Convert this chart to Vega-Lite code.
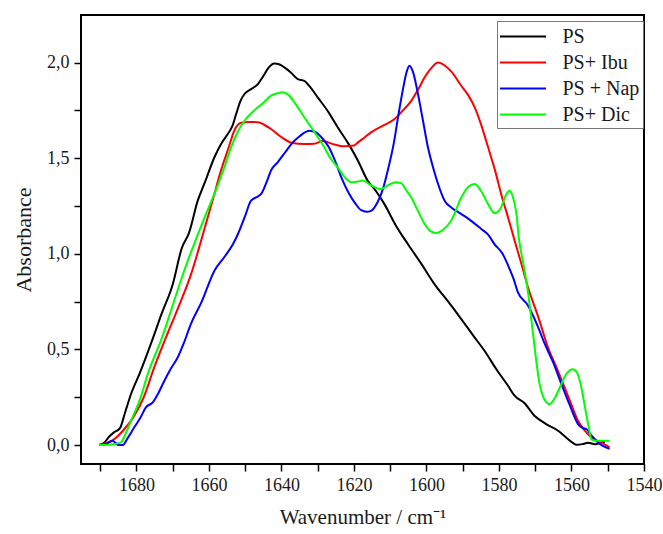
{
  "$schema": "https://vega.github.io/schema/vega-lite/v6.json",
  "width": 563,
  "height": 449,
  "autosize": "none",
  "padding": {"left": 81, "top": 15, "right": 19, "bottom": 70},
  "background": "white",
  "config": {
    "font": "Liberation Serif",
    "view": {"stroke": "#000000", "strokeWidth": 2},
    "axis": {
      "grid": false,
      "domain": false,
      "ticks": true,
      "tickColor": "#000000",
      "tickWidth": 1.5,
      "tickSize": 7,
      "labelColor": "#1a1a1a",
      "labelFont": "Liberation Serif",
      "labelFontSize": 18,
      "titleFont": "Liberation Serif",
      "titleFontSize": 22,
      "titleFontWeight": "normal",
      "titleColor": "#1a1a1a",
      "labelOverlap": false
    },
    "legend": {
      "labelFont": "Liberation Serif",
      "labelFontSize": 20,
      "labelColor": "#1a1a1a"
    }
  },
  "datasets": {
    "spectra": [
      {"s": "PS", "x": 1690.3, "y": 0.0},
      {"s": "PS", "x": 1689.0, "y": 0.01},
      {"s": "PS", "x": 1687.5, "y": 0.045},
      {"s": "PS", "x": 1686.3, "y": 0.065},
      {"s": "PS", "x": 1684.5, "y": 0.09},
      {"s": "PS", "x": 1683.3, "y": 0.16},
      {"s": "PS", "x": 1681.5, "y": 0.267},
      {"s": "PS", "x": 1679.0, "y": 0.38},
      {"s": "PS", "x": 1676.0, "y": 0.53},
      {"s": "PS", "x": 1673.0, "y": 0.69},
      {"s": "PS", "x": 1670.0, "y": 0.84},
      {"s": "PS", "x": 1667.5, "y": 1.03},
      {"s": "PS", "x": 1665.5, "y": 1.11},
      {"s": "PS", "x": 1663.1, "y": 1.278},
      {"s": "PS", "x": 1661.0, "y": 1.38},
      {"s": "PS", "x": 1658.5, "y": 1.505},
      {"s": "PS", "x": 1656.5, "y": 1.58},
      {"s": "PS", "x": 1654.8, "y": 1.627},
      {"s": "PS", "x": 1653.5, "y": 1.67},
      {"s": "PS", "x": 1652.5, "y": 1.731},
      {"s": "PS", "x": 1651.3, "y": 1.8},
      {"s": "PS", "x": 1650.2, "y": 1.836},
      {"s": "PS", "x": 1648.5, "y": 1.86},
      {"s": "PS", "x": 1646.5, "y": 1.888},
      {"s": "PS", "x": 1645.0, "y": 1.93},
      {"s": "PS", "x": 1643.5, "y": 1.975},
      {"s": "PS", "x": 1642.0, "y": 1.996},
      {"s": "PS", "x": 1640.5, "y": 1.99},
      {"s": "PS", "x": 1639.2, "y": 1.975},
      {"s": "PS", "x": 1637.5, "y": 1.95},
      {"s": "PS", "x": 1635.5, "y": 1.914},
      {"s": "PS", "x": 1633.7, "y": 1.905},
      {"s": "PS", "x": 1632.0, "y": 1.87},
      {"s": "PS", "x": 1630.0, "y": 1.818},
      {"s": "PS", "x": 1627.0, "y": 1.74},
      {"s": "PS", "x": 1624.5, "y": 1.662},
      {"s": "PS", "x": 1621.5, "y": 1.575},
      {"s": "PS", "x": 1618.9, "y": 1.487},
      {"s": "PS", "x": 1616.2, "y": 1.382},
      {"s": "PS", "x": 1614.0, "y": 1.33},
      {"s": "PS", "x": 1611.6, "y": 1.26},
      {"s": "PS", "x": 1608.5, "y": 1.15},
      {"s": "PS", "x": 1605.1, "y": 1.05},
      {"s": "PS", "x": 1601.5, "y": 0.95},
      {"s": "PS", "x": 1597.8, "y": 0.842},
      {"s": "PS", "x": 1594.0, "y": 0.75},
      {"s": "PS", "x": 1590.4, "y": 0.659},
      {"s": "PS", "x": 1587.0, "y": 0.57},
      {"s": "PS", "x": 1584.0, "y": 0.493},
      {"s": "PS", "x": 1580.5, "y": 0.39},
      {"s": "PS", "x": 1577.5, "y": 0.31},
      {"s": "PS", "x": 1575.7, "y": 0.258},
      {"s": "PS", "x": 1573.0, "y": 0.22},
      {"s": "PS", "x": 1570.2, "y": 0.153},
      {"s": "PS", "x": 1567.0, "y": 0.11},
      {"s": "PS", "x": 1563.7, "y": 0.075},
      {"s": "PS", "x": 1561.5, "y": 0.04},
      {"s": "PS", "x": 1559.5, "y": 0.01},
      {"s": "PS", "x": 1558.7, "y": 0.002},
      {"s": "PS", "x": 1557.0, "y": 0.005},
      {"s": "PS", "x": 1555.4, "y": 0.012},
      {"s": "PS", "x": 1553.5, "y": 0.004},
      {"s": "PS", "x": 1551.5, "y": 0.015},
      {"s": "PS", "x": 1550.8, "y": 0.016},

      {"s": "PS+ Ibu", "x": 1690.3, "y": 0.0},
      {"s": "PS+ Ibu", "x": 1688.0, "y": 0.012},
      {"s": "PS+ Ibu", "x": 1686.1, "y": 0.031},
      {"s": "PS+ Ibu", "x": 1683.5, "y": 0.08},
      {"s": "PS+ Ibu", "x": 1680.6, "y": 0.153},
      {"s": "PS+ Ibu", "x": 1678.0, "y": 0.25},
      {"s": "PS+ Ibu", "x": 1675.1, "y": 0.406},
      {"s": "PS+ Ibu", "x": 1671.5, "y": 0.58},
      {"s": "PS+ Ibu", "x": 1667.7, "y": 0.755},
      {"s": "PS+ Ibu", "x": 1665.0, "y": 0.89},
      {"s": "PS+ Ibu", "x": 1661.7, "y": 1.1},
      {"s": "PS+ Ibu", "x": 1659.0, "y": 1.28},
      {"s": "PS+ Ibu", "x": 1656.7, "y": 1.435},
      {"s": "PS+ Ibu", "x": 1654.5, "y": 1.56},
      {"s": "PS+ Ibu", "x": 1653.0, "y": 1.645},
      {"s": "PS+ Ibu", "x": 1651.1, "y": 1.685},
      {"s": "PS+ Ibu", "x": 1648.5, "y": 1.69},
      {"s": "PS+ Ibu", "x": 1646.5, "y": 1.688},
      {"s": "PS+ Ibu", "x": 1644.8, "y": 1.675},
      {"s": "PS+ Ibu", "x": 1642.9, "y": 1.653},
      {"s": "PS+ Ibu", "x": 1640.0, "y": 1.61},
      {"s": "PS+ Ibu", "x": 1637.0, "y": 1.58},
      {"s": "PS+ Ibu", "x": 1633.7, "y": 1.574},
      {"s": "PS+ Ibu", "x": 1631.0, "y": 1.576},
      {"s": "PS+ Ibu", "x": 1628.5, "y": 1.59},
      {"s": "PS+ Ibu", "x": 1626.0, "y": 1.575},
      {"s": "PS+ Ibu", "x": 1622.6, "y": 1.562},
      {"s": "PS+ Ibu", "x": 1620.0, "y": 1.566},
      {"s": "PS+ Ibu", "x": 1618.9, "y": 1.583},
      {"s": "PS+ Ibu", "x": 1617.0, "y": 1.61},
      {"s": "PS+ Ibu", "x": 1615.3, "y": 1.635},
      {"s": "PS+ Ibu", "x": 1612.0, "y": 1.67},
      {"s": "PS+ Ibu", "x": 1608.8, "y": 1.705},
      {"s": "PS+ Ibu", "x": 1606.5, "y": 1.75},
      {"s": "PS+ Ibu", "x": 1604.2, "y": 1.8},
      {"s": "PS+ Ibu", "x": 1602.3, "y": 1.86},
      {"s": "PS+ Ibu", "x": 1600.5, "y": 1.923},
      {"s": "PS+ Ibu", "x": 1598.5, "y": 1.975},
      {"s": "PS+ Ibu", "x": 1596.8, "y": 2.0},
      {"s": "PS+ Ibu", "x": 1595.0, "y": 1.985},
      {"s": "PS+ Ibu", "x": 1593.0, "y": 1.95},
      {"s": "PS+ Ibu", "x": 1590.4, "y": 1.879},
      {"s": "PS+ Ibu", "x": 1588.5, "y": 1.83},
      {"s": "PS+ Ibu", "x": 1586.7, "y": 1.766},
      {"s": "PS+ Ibu", "x": 1585.0, "y": 1.68},
      {"s": "PS+ Ibu", "x": 1583.0, "y": 1.557},
      {"s": "PS+ Ibu", "x": 1581.0, "y": 1.43},
      {"s": "PS+ Ibu", "x": 1579.4, "y": 1.313},
      {"s": "PS+ Ibu", "x": 1577.5, "y": 1.19},
      {"s": "PS+ Ibu", "x": 1575.7, "y": 1.07},
      {"s": "PS+ Ibu", "x": 1574.0, "y": 0.96},
      {"s": "PS+ Ibu", "x": 1572.0, "y": 0.825},
      {"s": "PS+ Ibu", "x": 1569.0, "y": 0.66},
      {"s": "PS+ Ibu", "x": 1566.5, "y": 0.511},
      {"s": "PS+ Ibu", "x": 1564.0, "y": 0.4},
      {"s": "PS+ Ibu", "x": 1561.9, "y": 0.302},
      {"s": "PS+ Ibu", "x": 1560.0, "y": 0.21},
      {"s": "PS+ Ibu", "x": 1558.2, "y": 0.127},
      {"s": "PS+ Ibu", "x": 1556.5, "y": 0.08},
      {"s": "PS+ Ibu", "x": 1554.5, "y": 0.04},
      {"s": "PS+ Ibu", "x": 1552.0, "y": 0.015},
      {"s": "PS+ Ibu", "x": 1549.5, "y": -0.012},

      {"s": "PS + Nap", "x": 1690.3, "y": 0.0},
      {"s": "PS + Nap", "x": 1688.5, "y": 0.005},
      {"s": "PS + Nap", "x": 1686.6, "y": 0.022},
      {"s": "PS + Nap", "x": 1685.7, "y": 0.01},
      {"s": "PS + Nap", "x": 1685.0, "y": 0.0},
      {"s": "PS + Nap", "x": 1683.8, "y": 0.0},
      {"s": "PS + Nap", "x": 1682.3, "y": 0.04},
      {"s": "PS + Nap", "x": 1680.6, "y": 0.093},
      {"s": "PS + Nap", "x": 1679.0, "y": 0.14},
      {"s": "PS + Nap", "x": 1677.4, "y": 0.197},
      {"s": "PS + Nap", "x": 1675.5, "y": 0.223},
      {"s": "PS + Nap", "x": 1674.0, "y": 0.27},
      {"s": "PS + Nap", "x": 1672.3, "y": 0.336},
      {"s": "PS + Nap", "x": 1670.5, "y": 0.4},
      {"s": "PS + Nap", "x": 1668.6, "y": 0.459},
      {"s": "PS + Nap", "x": 1667.0, "y": 0.53},
      {"s": "PS + Nap", "x": 1665.0, "y": 0.633},
      {"s": "PS + Nap", "x": 1662.0, "y": 0.75},
      {"s": "PS + Nap", "x": 1658.5, "y": 0.912},
      {"s": "PS + Nap", "x": 1655.5, "y": 0.99},
      {"s": "PS + Nap", "x": 1653.4, "y": 1.05},
      {"s": "PS + Nap", "x": 1652.1, "y": 1.1},
      {"s": "PS + Nap", "x": 1650.0, "y": 1.2},
      {"s": "PS + Nap", "x": 1648.4, "y": 1.278},
      {"s": "PS + Nap", "x": 1646.5, "y": 1.3},
      {"s": "PS + Nap", "x": 1645.6, "y": 1.313},
      {"s": "PS + Nap", "x": 1644.0, "y": 1.38},
      {"s": "PS + Nap", "x": 1642.9, "y": 1.435},
      {"s": "PS + Nap", "x": 1641.0, "y": 1.48},
      {"s": "PS + Nap", "x": 1639.0, "y": 1.53},
      {"s": "PS + Nap", "x": 1637.0, "y": 1.58},
      {"s": "PS + Nap", "x": 1635.0, "y": 1.615},
      {"s": "PS + Nap", "x": 1632.3, "y": 1.644},
      {"s": "PS + Nap", "x": 1630.5, "y": 1.635},
      {"s": "PS + Nap", "x": 1628.8, "y": 1.606},
      {"s": "PS + Nap", "x": 1627.0, "y": 1.56},
      {"s": "PS + Nap", "x": 1625.3, "y": 1.49},
      {"s": "PS + Nap", "x": 1623.5, "y": 1.4},
      {"s": "PS + Nap", "x": 1621.5, "y": 1.32},
      {"s": "PS + Nap", "x": 1619.5, "y": 1.26},
      {"s": "PS + Nap", "x": 1618.0, "y": 1.228},
      {"s": "PS + Nap", "x": 1616.5, "y": 1.22},
      {"s": "PS + Nap", "x": 1615.3, "y": 1.225},
      {"s": "PS + Nap", "x": 1613.5, "y": 1.27},
      {"s": "PS + Nap", "x": 1612.0, "y": 1.34},
      {"s": "PS + Nap", "x": 1610.5, "y": 1.45},
      {"s": "PS + Nap", "x": 1609.0, "y": 1.58},
      {"s": "PS + Nap", "x": 1607.8, "y": 1.72},
      {"s": "PS + Nap", "x": 1606.5, "y": 1.86},
      {"s": "PS + Nap", "x": 1605.5, "y": 1.95},
      {"s": "PS + Nap", "x": 1604.7, "y": 1.984},
      {"s": "PS + Nap", "x": 1603.7, "y": 1.95},
      {"s": "PS + Nap", "x": 1602.5, "y": 1.85},
      {"s": "PS + Nap", "x": 1601.0, "y": 1.7},
      {"s": "PS + Nap", "x": 1599.6, "y": 1.557},
      {"s": "PS + Nap", "x": 1598.0, "y": 1.44},
      {"s": "PS + Nap", "x": 1596.8, "y": 1.365},
      {"s": "PS + Nap", "x": 1595.0, "y": 1.278},
      {"s": "PS + Nap", "x": 1593.0, "y": 1.24},
      {"s": "PS + Nap", "x": 1590.4, "y": 1.208},
      {"s": "PS + Nap", "x": 1587.5, "y": 1.17},
      {"s": "PS + Nap", "x": 1584.9, "y": 1.13},
      {"s": "PS + Nap", "x": 1583.0, "y": 1.1},
      {"s": "PS + Nap", "x": 1581.2, "y": 1.05},
      {"s": "PS + Nap", "x": 1579.0, "y": 1.0},
      {"s": "PS + Nap", "x": 1577.5, "y": 0.94},
      {"s": "PS + Nap", "x": 1576.0, "y": 0.87},
      {"s": "PS + Nap", "x": 1574.8, "y": 0.8},
      {"s": "PS + Nap", "x": 1572.0, "y": 0.73},
      {"s": "PS + Nap", "x": 1569.5, "y": 0.63},
      {"s": "PS + Nap", "x": 1567.4, "y": 0.53},
      {"s": "PS + Nap", "x": 1565.0, "y": 0.43},
      {"s": "PS + Nap", "x": 1562.8, "y": 0.32},
      {"s": "PS + Nap", "x": 1560.5, "y": 0.21},
      {"s": "PS + Nap", "x": 1558.2, "y": 0.11},
      {"s": "PS + Nap", "x": 1557.0, "y": 0.09},
      {"s": "PS + Nap", "x": 1555.9, "y": 0.084},
      {"s": "PS + Nap", "x": 1554.5, "y": 0.05},
      {"s": "PS + Nap", "x": 1552.7, "y": 0.014},
      {"s": "PS + Nap", "x": 1549.5, "y": -0.02},

      {"s": "PS+ Dic", "x": 1690.3, "y": 0.0},
      {"s": "PS+ Dic", "x": 1687.0, "y": 0.003},
      {"s": "PS+ Dic", "x": 1684.3, "y": 0.014},
      {"s": "PS+ Dic", "x": 1683.0, "y": 0.06},
      {"s": "PS+ Dic", "x": 1681.5, "y": 0.127},
      {"s": "PS+ Dic", "x": 1679.0, "y": 0.24},
      {"s": "PS+ Dic", "x": 1676.9, "y": 0.371},
      {"s": "PS+ Dic", "x": 1673.0, "y": 0.56},
      {"s": "PS+ Dic", "x": 1669.6, "y": 0.755},
      {"s": "PS+ Dic", "x": 1666.5, "y": 0.93},
      {"s": "PS+ Dic", "x": 1663.1, "y": 1.1},
      {"s": "PS+ Dic", "x": 1661.0, "y": 1.2},
      {"s": "PS+ Dic", "x": 1658.5, "y": 1.313},
      {"s": "PS+ Dic", "x": 1656.0, "y": 1.44},
      {"s": "PS+ Dic", "x": 1653.9, "y": 1.557},
      {"s": "PS+ Dic", "x": 1652.0, "y": 1.64},
      {"s": "PS+ Dic", "x": 1650.2, "y": 1.696},
      {"s": "PS+ Dic", "x": 1647.5, "y": 1.75},
      {"s": "PS+ Dic", "x": 1645.0, "y": 1.79},
      {"s": "PS+ Dic", "x": 1642.9, "y": 1.827},
      {"s": "PS+ Dic", "x": 1641.0, "y": 1.84},
      {"s": "PS+ Dic", "x": 1639.6, "y": 1.845},
      {"s": "PS+ Dic", "x": 1638.0, "y": 1.83},
      {"s": "PS+ Dic", "x": 1636.0, "y": 1.78},
      {"s": "PS+ Dic", "x": 1633.7, "y": 1.714},
      {"s": "PS+ Dic", "x": 1631.0, "y": 1.64},
      {"s": "PS+ Dic", "x": 1628.2, "y": 1.557},
      {"s": "PS+ Dic", "x": 1626.5, "y": 1.5},
      {"s": "PS+ Dic", "x": 1624.5, "y": 1.452},
      {"s": "PS+ Dic", "x": 1622.5, "y": 1.4},
      {"s": "PS+ Dic", "x": 1620.8, "y": 1.374},
      {"s": "PS+ Dic", "x": 1619.0, "y": 1.378},
      {"s": "PS+ Dic", "x": 1617.5, "y": 1.383},
      {"s": "PS+ Dic", "x": 1615.5, "y": 1.36},
      {"s": "PS+ Dic", "x": 1613.5, "y": 1.342},
      {"s": "PS+ Dic", "x": 1612.5, "y": 1.339},
      {"s": "PS+ Dic", "x": 1610.5, "y": 1.36},
      {"s": "PS+ Dic", "x": 1608.5, "y": 1.375},
      {"s": "PS+ Dic", "x": 1607.0, "y": 1.37},
      {"s": "PS+ Dic", "x": 1605.5, "y": 1.33},
      {"s": "PS+ Dic", "x": 1604.2, "y": 1.295},
      {"s": "PS+ Dic", "x": 1602.5, "y": 1.23},
      {"s": "PS+ Dic", "x": 1600.5, "y": 1.156},
      {"s": "PS+ Dic", "x": 1599.0, "y": 1.12},
      {"s": "PS+ Dic", "x": 1597.3, "y": 1.109},
      {"s": "PS+ Dic", "x": 1595.5, "y": 1.125},
      {"s": "PS+ Dic", "x": 1593.2, "y": 1.173},
      {"s": "PS+ Dic", "x": 1590.4, "y": 1.295},
      {"s": "PS+ Dic", "x": 1588.5, "y": 1.35},
      {"s": "PS+ Dic", "x": 1586.7, "y": 1.365},
      {"s": "PS+ Dic", "x": 1585.0, "y": 1.33},
      {"s": "PS+ Dic", "x": 1583.0, "y": 1.26},
      {"s": "PS+ Dic", "x": 1581.2, "y": 1.213},
      {"s": "PS+ Dic", "x": 1579.5, "y": 1.24},
      {"s": "PS+ Dic", "x": 1578.0, "y": 1.31},
      {"s": "PS+ Dic", "x": 1577.1, "y": 1.33},
      {"s": "PS+ Dic", "x": 1576.2, "y": 1.3},
      {"s": "PS+ Dic", "x": 1575.2, "y": 1.21},
      {"s": "PS+ Dic", "x": 1574.5, "y": 1.08},
      {"s": "PS+ Dic", "x": 1573.3, "y": 0.95},
      {"s": "PS+ Dic", "x": 1572.0, "y": 0.8},
      {"s": "PS+ Dic", "x": 1570.6, "y": 0.58},
      {"s": "PS+ Dic", "x": 1568.8, "y": 0.32},
      {"s": "PS+ Dic", "x": 1567.5, "y": 0.24},
      {"s": "PS+ Dic", "x": 1566.0, "y": 0.214},
      {"s": "PS+ Dic", "x": 1564.5, "y": 0.25},
      {"s": "PS+ Dic", "x": 1563.0, "y": 0.31},
      {"s": "PS+ Dic", "x": 1561.5, "y": 0.37},
      {"s": "PS+ Dic", "x": 1559.6, "y": 0.397},
      {"s": "PS+ Dic", "x": 1558.5, "y": 0.38},
      {"s": "PS+ Dic", "x": 1557.5, "y": 0.32},
      {"s": "PS+ Dic", "x": 1556.3, "y": 0.2},
      {"s": "PS+ Dic", "x": 1555.2, "y": 0.09},
      {"s": "PS+ Dic", "x": 1554.5, "y": 0.03},
      {"s": "PS+ Dic", "x": 1553.0, "y": 0.022},
      {"s": "PS+ Dic", "x": 1549.5, "y": 0.022}
    ]
  },
  "data": {"name": "spectra"},
  "mark": {"type": "line", "strokeWidth": 2, "interpolate": "monotone", "clip": true},
  "encoding": {
    "x": {
      "field": "x",
      "type": "quantitative",
      "scale": {"domain": [1540, 1695.3], "reverse": true, "nice": false, "zero": false},
      "axis": {
        "title": "Wavenumber / cm\u207B\u00B9",
        "titleFontSize": 21,
        "values": [1690, 1680, 1670, 1660, 1650, 1640, 1630, 1620, 1610, 1600, 1590, 1580, 1570, 1560, 1550, 1540],
        "labelExpr": "datum.value % 20 == 0 ? datum.value : ''",
        "labelFlush": false,
        "labelPadding": 5,
        "titlePadding": 12
      }
    },
    "y": {
      "field": "y",
      "type": "quantitative",
      "scale": {"domain": [-0.099, 2.249], "nice": false, "zero": false},
      "axis": {
        "title": "Absorbance",
        "values": [0, 0.25, 0.5, 0.75, 1, 1.25, 1.5, 1.75, 2],
        "labelExpr": "abs(datum.value * 2 - round(datum.value * 2)) < 0.01 ? replace(format(datum.value, '.1f'), '.', ',') : ''",
        "labelFlush": false,
        "labelPadding": 5,
        "titlePadding": 11
      }
    },
    "color": {
      "field": "s",
      "type": "nominal",
      "sort": ["PS", "PS+ Ibu", "PS + Nap", "PS+ Dic"],
      "scale": {
        "domain": ["PS", "PS+ Ibu", "PS + Nap", "PS+ Dic"],
        "range": ["#000000", "#ff0000", "#0000ff", "#00ff00"]
      },
      "legend": {
        "title": null,
        "orient": "none",
        "legendX": 416,
        "legendY": 6,
        "symbolType": "M-2,0H2",
        "symbolSize": 529,
        "symbolStrokeWidth": 2,
        "symbolOffset": 10.5,
        "labelOffset": 27,
        "padding": 3,
        "rowPadding": 3,
        "strokeColor": "#777777",
        "fillColor": "white"
      }
    }
  }
}
